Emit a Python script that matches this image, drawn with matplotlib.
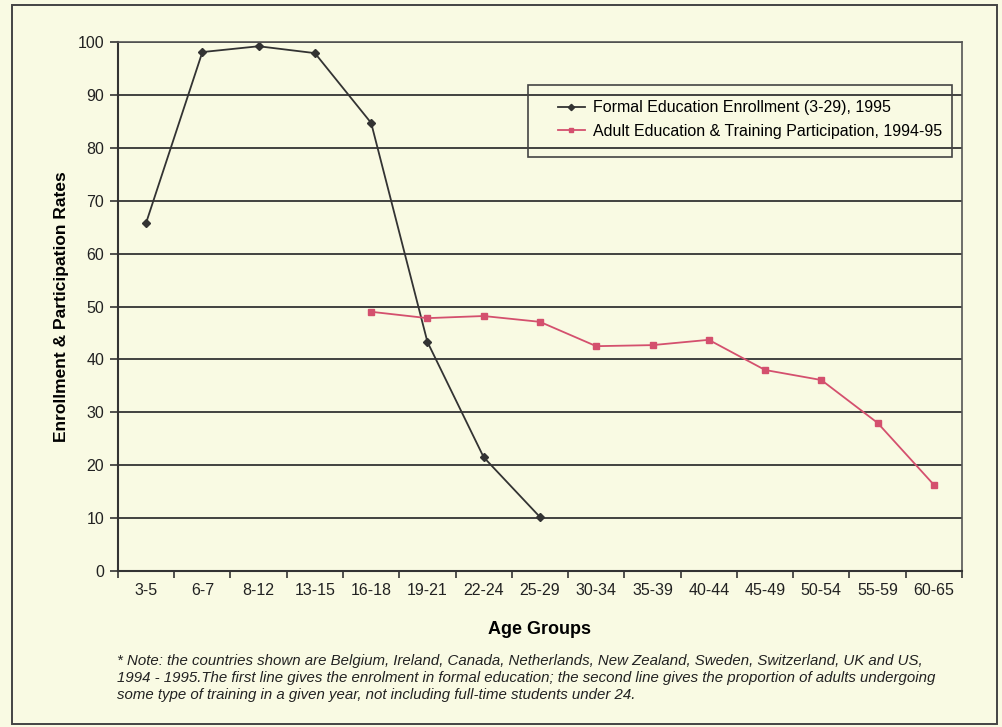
"""Formal education enrolment vs adult training participation by age group."""
import matplotlib.pyplot as plt
from matplotlib.patches import Rectangle

age_groups = ["3-5", "6-7", "8-12", "13-15", "16-18", "19-21", "22-24", "25-29",
              "30-34", "35-39", "40-44", "45-49", "50-54", "55-59", "60-65"]
formal = [65.8, 98.1, 99.2, 97.9, 84.7, 43.3, 21.5, 10.2]
adult_groups = age_groups[4:]
adult = [49.0, 47.8, 48.2, 47.1, 42.5, 42.7, 43.7, 38.0, 36.1, 28.0, 16.3]

BG = "#F9FAE3"
INK = "#333333"
RED = "#D4506E"

plt.rcParams["font.family"] = ["Liberation Sans", "DejaVu Sans"]

fig = plt.figure(figsize=(10.03, 7.27), dpi=100, facecolor=BG)
ax = fig.add_axes([0.1176, 0.2146, 0.8415, 0.7276])
ax.set_facecolor(BG)

# outer frame around the whole picture
fig.patches.append(Rectangle((0.012, 0.004), 0.982, 0.989, transform=fig.transFigure,
                             fill=False, edgecolor="#444444", linewidth=1.4))

x = list(range(len(age_groups)))
ax.plot(x[:len(formal)], formal, "-", color=INK, lw=1.3, marker="D", markersize=4,
        label="Formal Education Enrollment (3-29), 1995")
ax.plot(x[4:4 + len(adult)], adult, "-", color=RED, lw=1.3, marker="s", markersize=4,
        label="Adult Education & Training Participation, 1994-95")

ax.set_xlim(-0.5, len(age_groups) - 0.5)
ax.set_ylim(0, 100)
ax.set_yticks(range(0, 101, 10))
ax.set_xticks(x)
ax.set_xticklabels(age_groups)
ax.set_xticks([i + 0.5 for i in range(-1, len(age_groups))], minor=True)
ax.tick_params(axis="x", which="major", length=0, pad=9, labelsize=11.5, colors="#222222")
ax.tick_params(axis="x", which="minor", length=5, width=1.2, direction="out", color=INK)
ax.tick_params(axis="y", length=6, width=1.2, pad=4, labelsize=11.5, color=INK, labelcolor="#222222")
ax.yaxis.grid(True, color=INK, linewidth=1.3)
ax.set_axisbelow(True)

for side in ["left", "bottom"]:
    ax.spines[side].set_color(INK)
    ax.spines[side].set_linewidth(1.5)
for side in ["top", "right"]:
    ax.spines[side].set_color("#555555")
    ax.spines[side].set_linewidth(1.2)

ax.set_xlabel("Age Groups", fontsize=13, fontweight="bold", labelpad=16)
ax.set_ylabel("Enrollment & Participation Rates", fontsize=12.5, fontweight="bold", labelpad=6)

# legend: box drawn separately so the entries can sit indented inside it
ax.add_patch(Rectangle((0.4858, 0.7826), 0.5022, 0.1361, transform=ax.transAxes,
                       fill=False, edgecolor="#444444", linewidth=1.2, zorder=3))
leg = ax.legend(loc="upper left", bbox_to_anchor=(0.5115, 0.905), frameon=False,
                fontsize=11.5, handlelength=1.7, handletextpad=0.5, borderpad=0,
                labelspacing=0.55, markerscale=0.8)

note = ("* Note: the countries shown are Belgium, Ireland, Canada, Netherlands, New Zealand, "
        "Sweden, Switzerland, UK and US,\n"
        "1994 - 1995.The first line gives the enrolment in formal education; the second line "
        "gives the proportion of adults undergoing\n"
        "some type of training in a given year, not including full-time students under 24.")
fig.text(0.117, 0.035, note, fontsize=10.8, style="italic", color="#222222",
         family=["Liberation Sans Narrow", "Liberation Sans", "DejaVu Sans"],
         linespacing=1.25, va="bottom", ha="left")

fig.savefig("out.png", dpi=100, facecolor=BG)
